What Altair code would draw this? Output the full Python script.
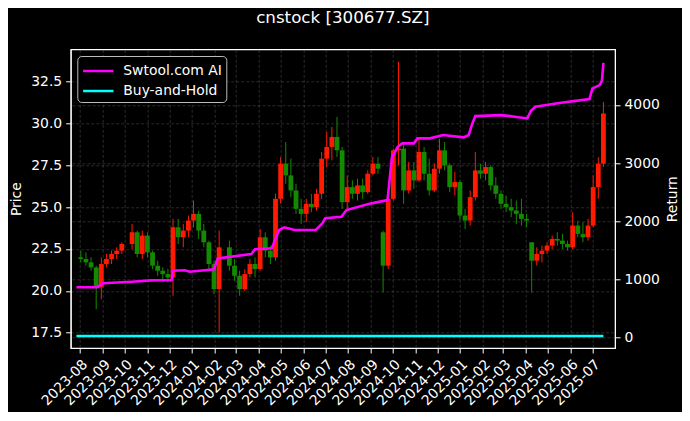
import altair as alt
import pandas as pd

# ---------------- data (weekly candles) ----------------
week_start = [
    "2023-07-31", "2023-08-07", "2023-08-14", "2023-08-21", "2023-08-28", "2023-09-04", "2023-09-11",
    "2023-09-18", "2023-09-25", "2023-10-09", "2023-10-16", "2023-10-23", "2023-10-30", "2023-11-06",
    "2023-11-13", "2023-11-20", "2023-11-27", "2023-12-04", "2023-12-11", "2023-12-18", "2023-12-25",
    "2024-01-01", "2024-01-08", "2024-01-15", "2024-01-22", "2024-01-29", "2024-02-05", "2024-02-19",
    "2024-02-26", "2024-03-04", "2024-03-11", "2024-03-18", "2024-03-25", "2024-04-01", "2024-04-08",
    "2024-04-15", "2024-04-22", "2024-04-29", "2024-05-06", "2024-05-13", "2024-05-20", "2024-05-27",
    "2024-06-03", "2024-06-10", "2024-06-17", "2024-06-24", "2024-07-01", "2024-07-08", "2024-07-15",
    "2024-07-22", "2024-07-29", "2024-08-05", "2024-08-12", "2024-08-19", "2024-08-26", "2024-09-02",
    "2024-09-09", "2024-09-16", "2024-09-23", "2024-09-30", "2024-10-07", "2024-10-14", "2024-10-21",
    "2024-10-28", "2024-11-04", "2024-11-11", "2024-11-18", "2024-11-25", "2024-12-02", "2024-12-09",
    "2024-12-16", "2024-12-23", "2024-12-30", "2025-01-06", "2025-01-13", "2025-01-20", "2025-01-27",
    "2025-02-03", "2025-02-10", "2025-02-17", "2025-02-24", "2025-03-03", "2025-03-10", "2025-03-17",
    "2025-03-24", "2025-03-31", "2025-04-07", "2025-04-14", "2025-04-21", "2025-04-28", "2025-05-05",
    "2025-05-12", "2025-05-19", "2025-05-26", "2025-06-02", "2025-06-09", "2025-06-16", "2025-06-23",
    "2025-06-30", "2025-07-07", "2025-07-14",
]
open_ = [
    22.0, 21.9, 21.7, 21.4, 20.2, 21.6, 21.9, 22.2, 22.4, 22.8, 23.5, 22.2, 23.3, 22.3, 21.5, 21.2, 21.0,
    20.8, 23.8, 23.2, 23.6, 24.2, 24.6, 23.6, 22.9, 21.6, 20.1, 22.6, 21.5, 20.9, 20.1, 21.0, 21.6, 21.3,
    23.2, 22.4, 22.0, 25.5, 27.6, 26.9, 26.0, 24.9, 24.6, 25.2, 25.0, 25.8, 27.9, 28.6, 29.2, 28.4, 25.3,
    26.2, 25.8, 26.3, 25.9, 27.0, 27.6, 23.5, 21.5, 25.5, 28.4, 28.5, 26.0, 27.2, 26.6, 28.3, 27.0, 26.0,
    27.3, 28.4, 27.5, 26.2, 26.5, 24.5, 24.2, 25.6, 27.2, 27.0, 27.4, 26.3, 25.8, 25.2, 25.0, 24.8, 24.6,
    24.3, 22.9, 21.8, 22.2, 22.4, 22.7, 23.1, 23.0, 22.8, 22.6, 23.9, 23.4, 23.2, 23.9, 26.2, 27.6,
]
high = [
    22.4, 22.3, 22.0, 21.5, 22.0, 22.2, 22.4, 22.6, 22.9, 24.0, 23.6, 23.6, 23.5, 22.4, 21.8, 21.4, 21.3,
    24.3, 24.3, 24.0, 24.5, 25.4, 24.8, 24.0, 23.0, 21.8, 23.6, 23.0, 21.9, 21.2, 21.3, 21.9, 22.0, 23.7,
    23.5, 22.7, 25.8, 28.0, 28.9, 27.9, 26.4, 25.5, 25.5, 25.8, 26.1, 28.3, 29.5, 29.8, 30.4, 28.6, 26.9,
    26.6, 26.7, 26.7, 27.2, 28.0, 28.0, 23.6, 26.0, 28.5, 33.7, 28.8, 27.7, 27.7, 29.1, 28.6, 27.9, 27.6,
    29.1, 28.9, 27.6, 27.1, 26.6, 24.9, 26.0, 28.3, 27.6, 27.7, 27.5, 26.8, 26.0, 25.7, 25.5, 25.4, 25.5,
    24.6, 22.9, 22.6, 22.7, 22.9, 23.3, 23.5, 23.4, 23.0, 24.7, 24.2, 24.1, 24.3, 26.9, 28.0, 31.3,
]
low = [
    21.7, 21.5, 21.2, 18.9, 19.5, 21.4, 21.6, 21.9, 22.2, 22.5, 22.0, 21.9, 22.0, 21.3, 20.9, 20.7, 20.5,
    19.7, 22.8, 22.6, 23.2, 23.8, 23.1, 22.6, 21.2, 19.8, 17.5, 21.2, 20.6, 19.7, 20.0, 20.8, 20.8, 21.2,
    22.0, 21.6, 21.8, 25.2, 26.4, 25.6, 24.6, 24.0, 24.1, 24.7, 24.8, 25.5, 27.4, 27.8, 28.0, 24.9, 24.9,
    25.5, 25.4, 25.5, 25.8, 26.9, 27.0, 19.9, 21.3, 25.4, 27.5, 25.2, 25.8, 26.1, 26.5, 26.6, 25.7, 25.9,
    27.0, 27.2, 25.9, 25.7, 24.2, 23.7, 23.9, 25.4, 26.7, 26.6, 26.0, 25.5, 24.9, 24.7, 24.4, 24.0, 23.9,
    23.8, 19.9, 21.5, 21.7, 22.2, 22.5, 22.7, 22.5, 22.4, 22.5, 23.2, 22.9, 23.0, 23.8, 25.5, 27.4,
]
close = [
    21.9, 21.7, 21.4, 20.2, 21.6, 21.9, 22.2, 22.4, 22.8, 23.5, 22.2, 23.3, 22.3, 21.5, 21.2, 21.0, 20.8,
    23.8, 23.2, 23.6, 24.2, 24.6, 23.6, 22.9, 21.6, 20.1, 22.6, 21.5, 20.9, 20.1, 21.0, 21.6, 21.3, 23.2,
    22.4, 22.0, 25.5, 27.6, 26.9, 26.0, 24.9, 24.6, 25.2, 25.0, 25.8, 27.9, 28.6, 29.2, 28.4, 25.3, 26.2,
    25.8, 26.3, 25.9, 27.0, 27.6, 27.3, 21.5, 25.5, 28.4, 28.5, 26.0, 27.2, 26.6, 28.3, 27.0, 26.0, 27.3,
    28.4, 27.5, 26.2, 26.5, 24.5, 24.2, 25.6, 27.2, 27.0, 27.4, 26.3, 25.8, 25.2, 25.0, 24.8, 24.6, 24.3,
    24.2, 21.8, 22.2, 22.4, 22.7, 23.1, 23.0, 22.8, 22.6, 23.9, 23.4, 23.2, 23.9, 26.2, 27.6, 30.6,
]

ai_dates = [
    "2023-07-27", "2023-08-25", "2023-08-28", "2023-09-01", "2023-10-11", "2023-11-06", "2023-12-04",
    "2023-12-06", "2023-12-22", "2023-12-29", "2024-01-31", "2024-02-05", "2024-03-22", "2024-03-27",
    "2024-04-19", "2024-04-24", "2024-04-29", "2024-05-06", "2024-05-20", "2024-06-18", "2024-06-27",
    "2024-07-01", "2024-07-23", "2024-07-30", "2024-09-02", "2024-09-24", "2024-09-26", "2024-09-30",
    "2024-10-08", "2024-10-14", "2024-10-30", "2024-11-04", "2024-11-21", "2024-12-09", "2025-01-06",
    "2025-01-13", "2025-01-17", "2025-01-22", "2025-02-27", "2025-04-03", "2025-04-08", "2025-04-14",
    "2025-05-19", "2025-06-16", "2025-06-27", "2025-07-01", "2025-07-11", "2025-07-14", "2025-07-16",
]
ai_values = [
    866, 866, 900, 935, 962, 985, 991, 1151, 1160, 1134, 1175, 1364, 1438, 1519, 1536, 1700, 1851, 1897,
    1851, 1851, 1966, 2052, 2079, 2194, 2309, 2366, 2600, 3100, 3282, 3340, 3340, 3426, 3426, 3483, 3443,
    3483, 3650, 3809, 3826, 3769, 3900, 3969, 4038, 4084, 4100, 4285, 4342, 4420, 4725,
]
bh_dates = ["2023-07-27", "2025-07-16"]
bh_values = [30, 30]

series_names = ["Swtool.com AI", "Buy-and-Hold"]
month_ticks = [
    "2023-08", "2023-09", "2023-10", "2023-11", "2023-12", "2024-01", "2024-02", "2024-03", "2024-04",
    "2024-05", "2024-06", "2024-07", "2024-08", "2024-09", "2024-10", "2024-11", "2024-12", "2025-01",
    "2025-02", "2025-03", "2025-04", "2025-05", "2025-06", "2025-07",
]
price_ticks = [17.5, 20.0, 22.5, 25.0, 27.5, 30.0, 32.5]
return_ticks = [0, 1000, 2000, 3000, 4000]

# ---------------- tables ----------------
cdf = pd.DataFrame({"week": week_start, "open": open_, "high": high, "low": low, "close": close})
cdf["date"] = (pd.to_datetime(cdf["week"]) + pd.Timedelta(days=2)).dt.strftime("%Y-%m-%d")

ret_df = pd.concat([
    pd.DataFrame({"date": ai_dates, "value": ai_values, "series": series_names[0]}),
    pd.DataFrame({"date": bh_dates, "value": bh_values, "series": series_names[1]}),
], ignore_index=True)

FONT = "DejaVu Sans"
W, H = 544.3, 298.7


def dt(s):
    y, m = s.split("-")[:2]
    d = int(s.split("-")[2]) if s.count("-") == 2 else 1
    return alt.DateTime(year=int(y), month=int(m), date=d, utc=True)


xscale = alt.Scale(type="utc", domain=[dt("2023-07-26"), dt("2025-07-25")])
xaxis = alt.Axis(
    values=[dt(m) for m in month_ticks],
    labelExpr="utcFormat(datum.value, '%Y-%m')",
    labelAngle=-45, labelAlign="right", labelBaseline="top",
    labelOverlap=False, labelFlush=False, grid=True, title=None,
)
X = alt.X("date:T", scale=xscale, axis=xaxis)

pscale = alt.Scale(domain=[16.58, 34.44], nice=False, zero=False)
paxis = alt.Axis(
    orient="left", values=price_ticks, format=".1f", title="Price", grid=True,
    titleX=-53.7, titleY=H / 2, titleAngle=270, titleBaseline="middle", titleAlign="center",
    labelFlush=False, labelOverlap=False,
)
rscale = alt.Scale(domain=[-177, 4957], nice=False, zero=False)
raxis = alt.Axis(
    orient="right", values=return_ticks, format="d", title="Return", grid=True,
    titleX=57.5, titleY=H / 2, titleAngle=270, titleBaseline="middle", titleAlign="center",
    labelFlush=False, labelOverlap=False,
)

candle_color = alt.condition("datum.close >= datum.open", alt.value("#ff1a00"), alt.value("#138a00"))

wick = alt.Chart(cdf).mark_rule(strokeWidth=1).encode(
    x=X, y=alt.Y("low:Q", scale=pscale, axis=paxis), y2="high:Q", color=candle_color
)
body = alt.Chart(cdf).mark_bar(width=4.8).encode(
    x=X, y=alt.Y("open:Q", scale=pscale, axis=paxis), y2="close:Q", color=candle_color
)

lines = alt.Chart(ret_df).mark_line(strokeWidth=2.6).encode(
    x=X,
    y=alt.Y("value:Q", scale=rscale, axis=raxis),
    color=alt.Color(
        "series:N",
        scale=alt.Scale(domain=series_names, range=["#ff00ff", "#00ffff"]),
        legend=alt.Legend(
            orient="none", legendX=6.6, legendY=6.7, title=None,
            symbolType="M-1.6,0H1.6", symbolSize=361, symbolStrokeWidth=2.5,
            symbolFillColor="transparent", symbolOffset=6, labelOffset=14,
            labelFontSize=13.9, labelColor="white", labelFont=FONT,
            padding=4, rowPadding=2, fillColor="black", strokeColor="#bbbbbb",
            cornerRadius=4,
        ),
    ),
)

chart = (
    alt.layer(alt.layer(wick, body), lines)
    .resolve_scale(y="independent")
    .properties(
        width=W, height=H, background="black",
        padding={"left": 62.7, "top": 41.3, "right": 67, "bottom": 64},
        autosize=alt.AutoSizeParams(type="none"),
        title=alt.TitleParams(
            "cnstock [300677.SZ]", color="white", font=FONT, fontSize=16.7,
            fontWeight="normal", anchor="middle", baseline="alphabetic", offset=10,
        ),
    )
    .configure_view(stroke="white", strokeWidth=1.2)
    .configure_axis(
        labelColor="white", titleColor="white", tickColor="white", domainColor="white",
        labelFont=FONT, titleFont=FONT, labelFontSize=13.9, titleFontSize=13.9,
        titleFontWeight="normal", gridColor="#808080", gridOpacity=0.55, gridWidth=0.6,
        gridDash=[3, 2], tickSize=5, labelPadding=4,
    )
)

chart.save("out.html", embed_options={"renderer": "svg", "actions": False})
